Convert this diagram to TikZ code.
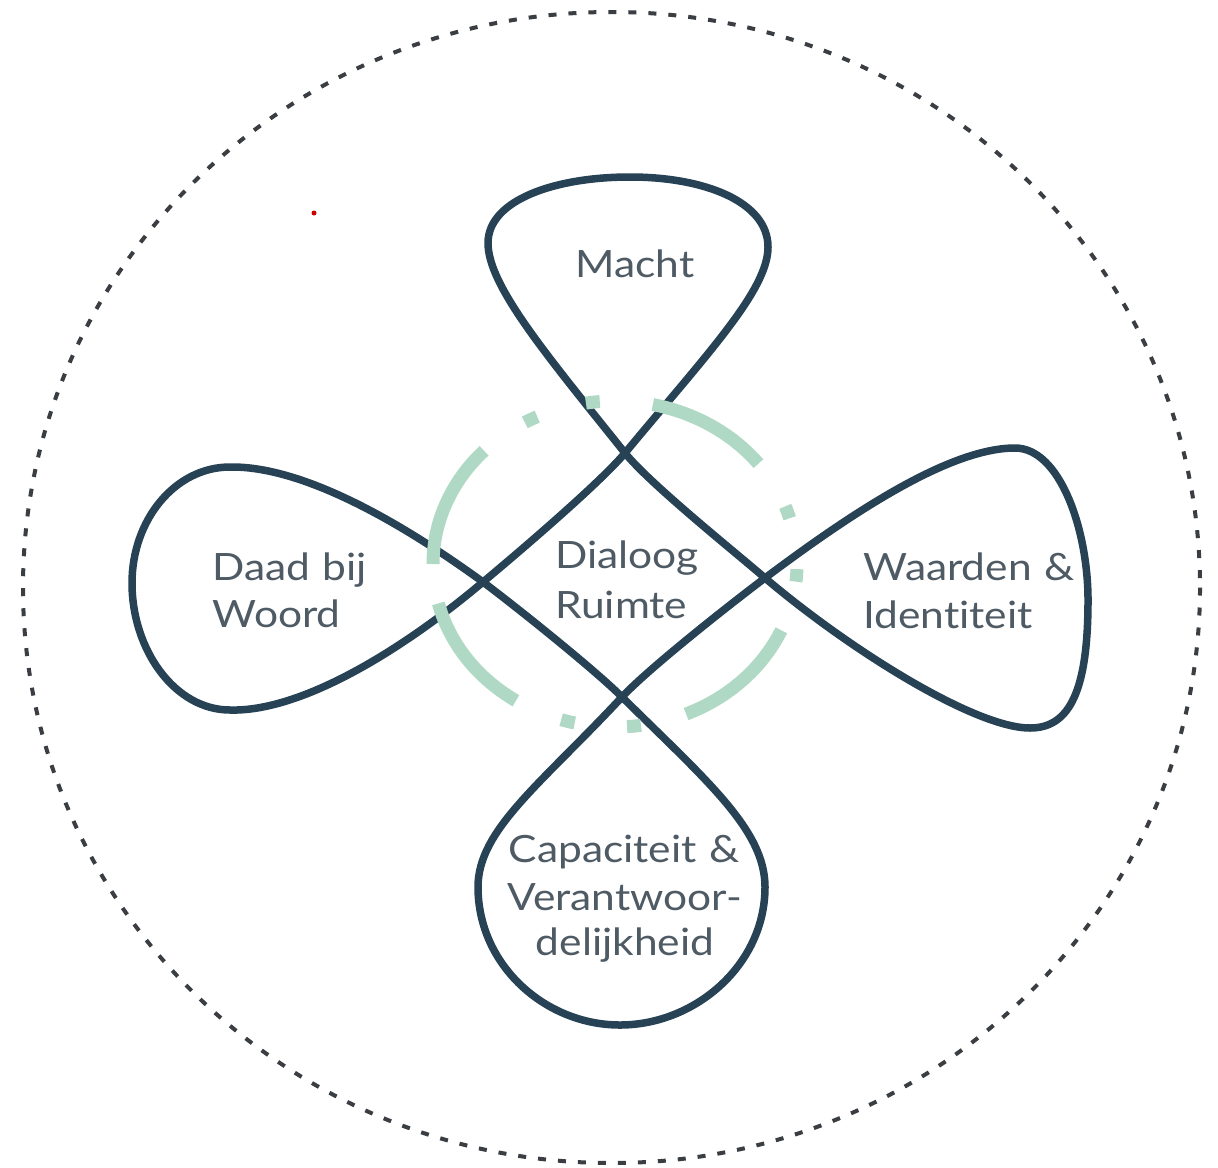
\documentclass[tikz,border=0pt]{standalone}
\usepackage{fontspec}
\setmainfont{Lato}[FakeStretch=1.13, WordSpace=1.15, RawFeature={-liga}]
\definecolor{knot}{RGB}{38,66,84}
\definecolor{mint}{RGB}{176,217,197}
\definecolor{labelc}{RGB}{78,90,100}
\definecolor{ring}{RGB}{58,62,66}
\begin{document}
\begin{tikzpicture}[x=0.5pt,y=-0.5pt,
  knotline/.style={knot, line width=3.75pt, line join=round},
  gdash/.style={mint, line width=6.5pt},
  lbl/.style={labelc, inner sep=0pt, font=\fontsize{18.8pt}{23.5pt}\selectfont},
  lblw/.style={lbl, anchor=base west},
  lblc/.style={lbl, anchor=base}]
\useasboundingbox (0,0) rectangle (1218,1167);
\fill[white] (0,0) rectangle (1218,1167);
% outer dashed ring
\draw[ring, line width=2pt, dash pattern=on 4pt off 6pt] (611.5,587.5) ellipse [x radius=588.5, y radius=575.5];
% stray red dot
\fill[red!80!black] (314,213) circle [radius=2.5];
% knot tips
\coordinate (L) at (483,582);
\coordinate (T) at (625,453);
\coordinate (R) at (765,578);
\coordinate (B) at (622,697);
\draw[knotline] (L) .. controls (513,557) and (599,484) .. (T)
 .. controls (708,353) and (768,290) .. (768,247)
 .. controls (768,202) and (705,177) .. (630,177)
 .. controls (555,177) and (488,200) .. (488,243)
 .. controls (488,285) and (544,352) .. (T)
 .. controls (650,484) and (735,552) .. (R)
 .. controls (850,650) and (975,728) .. (1030,728)
 .. controls (1070,728) and (1088,690) .. (1088,600)
 .. controls (1088,530) and (1060,448) .. (1015,448)
 .. controls (950,448) and (853,512) .. (R)
 .. controls (733,602) and (649,668) .. (B)
 .. controls (540,785) and (478,830) .. (478,887)
 .. controls (478,965) and (545,1025) .. (620,1025)
 .. controls (695,1025) and (765,965) .. (765,887)
 .. controls (765,830) and (707,781) .. (B)
 .. controls (594,669) and (515,606) .. (L)
 .. controls (395,518) and (300,466) .. (230,467)
 .. controls (175,467) and (132,520) .. (132,583)
 .. controls (132,650) and (175,710) .. (230,710)
 .. controls (300,712) and (400,652) .. cycle;
% green dash-dot ring
\foreach \a/\b in {-78/-38, 24/67, 123/166, 180/224,
                   -99.2/-94.8, -20.7/-16.3, 1.8/6.2, 81.8/86.2, 102.8/107.2, -119.7/-115.3}
  \draw[gdash] plot[domain=\a:\b, samples=30] ({615+182*cos(\x)},{564+163*sin(\x)});
% labels
\node[lblc] (macht) at (635,277) {Macht};
\node[lblw] (dia1) at (555,568) {Dialoog};
\node[lblw] (dia2) at (555,618) {Ruimte};
\node[lblw] (daad1) at (212,580) {Daad bij};
\node[lblw] (daad2) at (212,627) {Woord};
\node[lblw] (waar1) at (863,580) {Waarden \&};
\node[lblw] (waar2) at (863,628) {Identiteit};
\node[lblc] (cap1) at (624,862) {Capaciteit \&};
\node[lblc] (cap2) at (625,910) {Verantwoor-};
\node[lblc] (cap3) at (625,955) {delijkheid};
\end{tikzpicture}
\end{document}
